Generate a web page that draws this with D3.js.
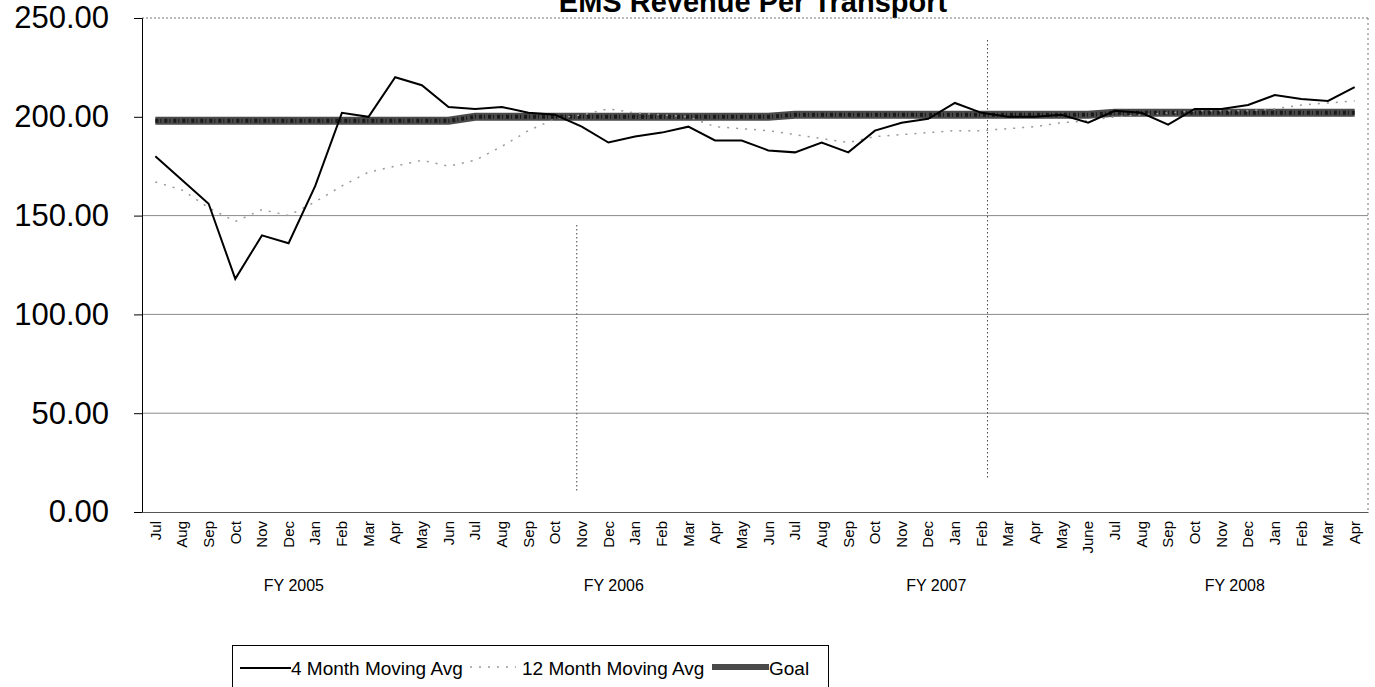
<!DOCTYPE html>
<html><head><meta charset="utf-8">
<script src="https://cdn.jsdelivr.net/npm/d3@7/dist/d3.min.js"></script>
<style>body{margin:0;background:#fff}svg{display:block;font-family:"Liberation Sans",Arial,sans-serif}</style>
</head><body><svg id="c" width="1375" height="687"></svg>
<script>
const months = ["Jul","Aug","Sep","Oct","Nov","Dec","Jan","Feb","Mar","Apr","May","Jun",
"Jul","Aug","Sep","Oct","Nov","Dec","Jan","Feb","Mar","Apr","May","Jun",
"Jul","Aug","Sep","Oct","Nov","Dec","Jan","Feb","Mar","Apr","May","June",
"Jul","Aug","Sep","Oct","Nov","Dec","Jan","Feb","Mar","Apr"];
const fiscalYears = ["FY 2005","FY 2006","FY 2007","FY 2008"];
const fyCenterIndex = [5.2,17.2,29.3,40.5];
const avg4 = [180,168,156,118,140,136,165,202,200,220,216,205,
204,205,202,201,195,187,190,192,195,188,188,183,
182,187,182,193,197,199,207,202,200,200,201,197,
203,202,196,204,204,206,211,209,208,215];
const avg12 = [167,163,154,147,153,150,157,165,172,175,178,175,
178,185,193,199,201,204,202,201,200,195,194,193,
191,189,187,190,191,192,193,193,194,195,197,198,
200,201,202,203,203,203,204,206,207,208];
const goal = [198,198,198,198,198,198,198,198,198,198,198,198,
200,200,200,200,200,200,200,200,200,200,200,200,
201,201,201,201,201,201,201,201,201,201,201,201,
202,202,202,202,202,202,202,202,202,202];
const yTicks = [0,50,100,150,200,250];
const dividerIdx = [16,31];
const seriesNames = ["4 Month Moving Avg","12 Month Moving Avg","Goal"];

const svg = d3.select("#c");
const L=142, R=1368, T=18, B=512;
const x = d3.scaleBand().domain(d3.range(months.length)).range([L,R]);
const cx = i => x(i)+x.bandwidth()/2;
const y = d3.scaleLinear().domain([0,250]).range([B,T]);

// title
svg.append("text").attr("x",753).attr("y",12).attr("text-anchor","middle")
  .attr("font-size",29).attr("font-weight","bold").text("EMS Revenue Per Transport");

// gridlines
svg.append("g").selectAll("line").data([50,100,150]).join("line")
  .attr("x1",L).attr("x2",R).attr("y1",d=>y(d)).attr("y2",d=>y(d))
  .attr("stroke","#8a8a8a").attr("stroke-width",1);
// top & right border dotted
svg.append("line").attr("x1",L).attr("x2",R).attr("y1",y(250)).attr("y2",y(250))
  .attr("stroke","#777").attr("stroke-dasharray","2,2");
svg.append("line").attr("x1",R).attr("x2",R).attr("y1",y(250)).attr("y2",B)
  .attr("stroke","#777").attr("stroke-dasharray","2,3");

// y axis
const yAxis = d3.axisLeft(y).tickValues(yTicks).tickFormat(d3.format(".2f")).tickSize(8).tickPadding(25);
const ga = svg.append("g").attr("transform",`translate(${L},0)`).call(yAxis);
ga.select(".domain").attr("stroke","#000");
ga.selectAll("text").attr("font-size",31).attr("font-family","'Liberation Sans',Arial,sans-serif").attr("fill","#000");
// bottom axis
const xAxis = d3.axisBottom(x).tickSize(0).tickFormat(i=>months[i]);
const gx = svg.append("g").attr("transform",`translate(0,${B})`).call(xAxis);
gx.select(".domain").attr("stroke","#555");
gx.selectAll("text").attr("font-size",15).attr("font-family","'Liberation Sans',Arial,sans-serif")
  .attr("fill","#000").attr("text-anchor","end").attr("dy","0.35em")
  .attr("transform","translate(0,9) rotate(-90)").attr("y",0).attr("x",0);

// FY labels
svg.append("g").selectAll("text").data(fiscalYears).join("text")
  .attr("x",(d,i)=>cx(0)+fyCenterIndex[i]*x.step()).attr("y",591).attr("text-anchor","middle")
  .attr("font-size",16).text(d=>d);

// divider lines
svg.append("g").selectAll("line").data(dividerIdx).join("line")
  .attr("x1",(d,i)=>cx(d)+[-5,6][i]).attr("x2",(d,i)=>cx(d)+[-5,6][i])
  .attr("y1",(d,i)=>[225,40][i]).attr("y2",(d,i)=>[493,480][i])
  .attr("stroke","#444").attr("stroke-dasharray","1.5,2.5");

const line = d3.line().x((d,i)=>cx(i)).y(d=>y(d));
svg.append("path").datum(goal).attr("d",line).attr("fill","none")
  .attr("stroke","#4a4a4a").attr("stroke-width",8);
svg.append("path").datum(goal).attr("d",line).attr("fill","none")
  .attr("stroke","#1a1a1a").attr("stroke-width",4).attr("stroke-dasharray","3,2,1,3");
svg.append("path").datum(avg12).attr("d",line).attr("fill","none")
  .attr("stroke","#999").attr("stroke-width",1.5).attr("stroke-dasharray","2,7");
svg.append("path").datum(avg4).attr("d",line).attr("fill","none")
  .attr("stroke","#000").attr("stroke-width",2);

// legend
const lg = svg.append("g");
lg.append("rect").attr("x",232.5).attr("y",645.5).attr("width",596).attr("height",60)
  .attr("fill","none").attr("stroke","#000");
lg.append("line").attr("x1",240).attr("x2",291).attr("y1",668).attr("y2",668).attr("stroke","#000").attr("stroke-width",2);
lg.append("text").attr("x",291).attr("y",675).attr("font-size",19).text(seriesNames[0]);
lg.append("line").attr("x1",470).attr("x2",516).attr("y1",667).attr("y2",667).attr("stroke","#999").attr("stroke-width",1.5).attr("stroke-dasharray","2,7");
lg.append("text").attr("x",522).attr("y",675).attr("font-size",19).text(seriesNames[1]);
lg.append("line").attr("x1",712).attr("x2",769).attr("y1",667).attr("y2",667).attr("stroke","#4a4a4a").attr("stroke-width",6);
lg.append("text").attr("x",769).attr("y",675).attr("font-size",19).text(seriesNames[2]);
</script></body></html>
